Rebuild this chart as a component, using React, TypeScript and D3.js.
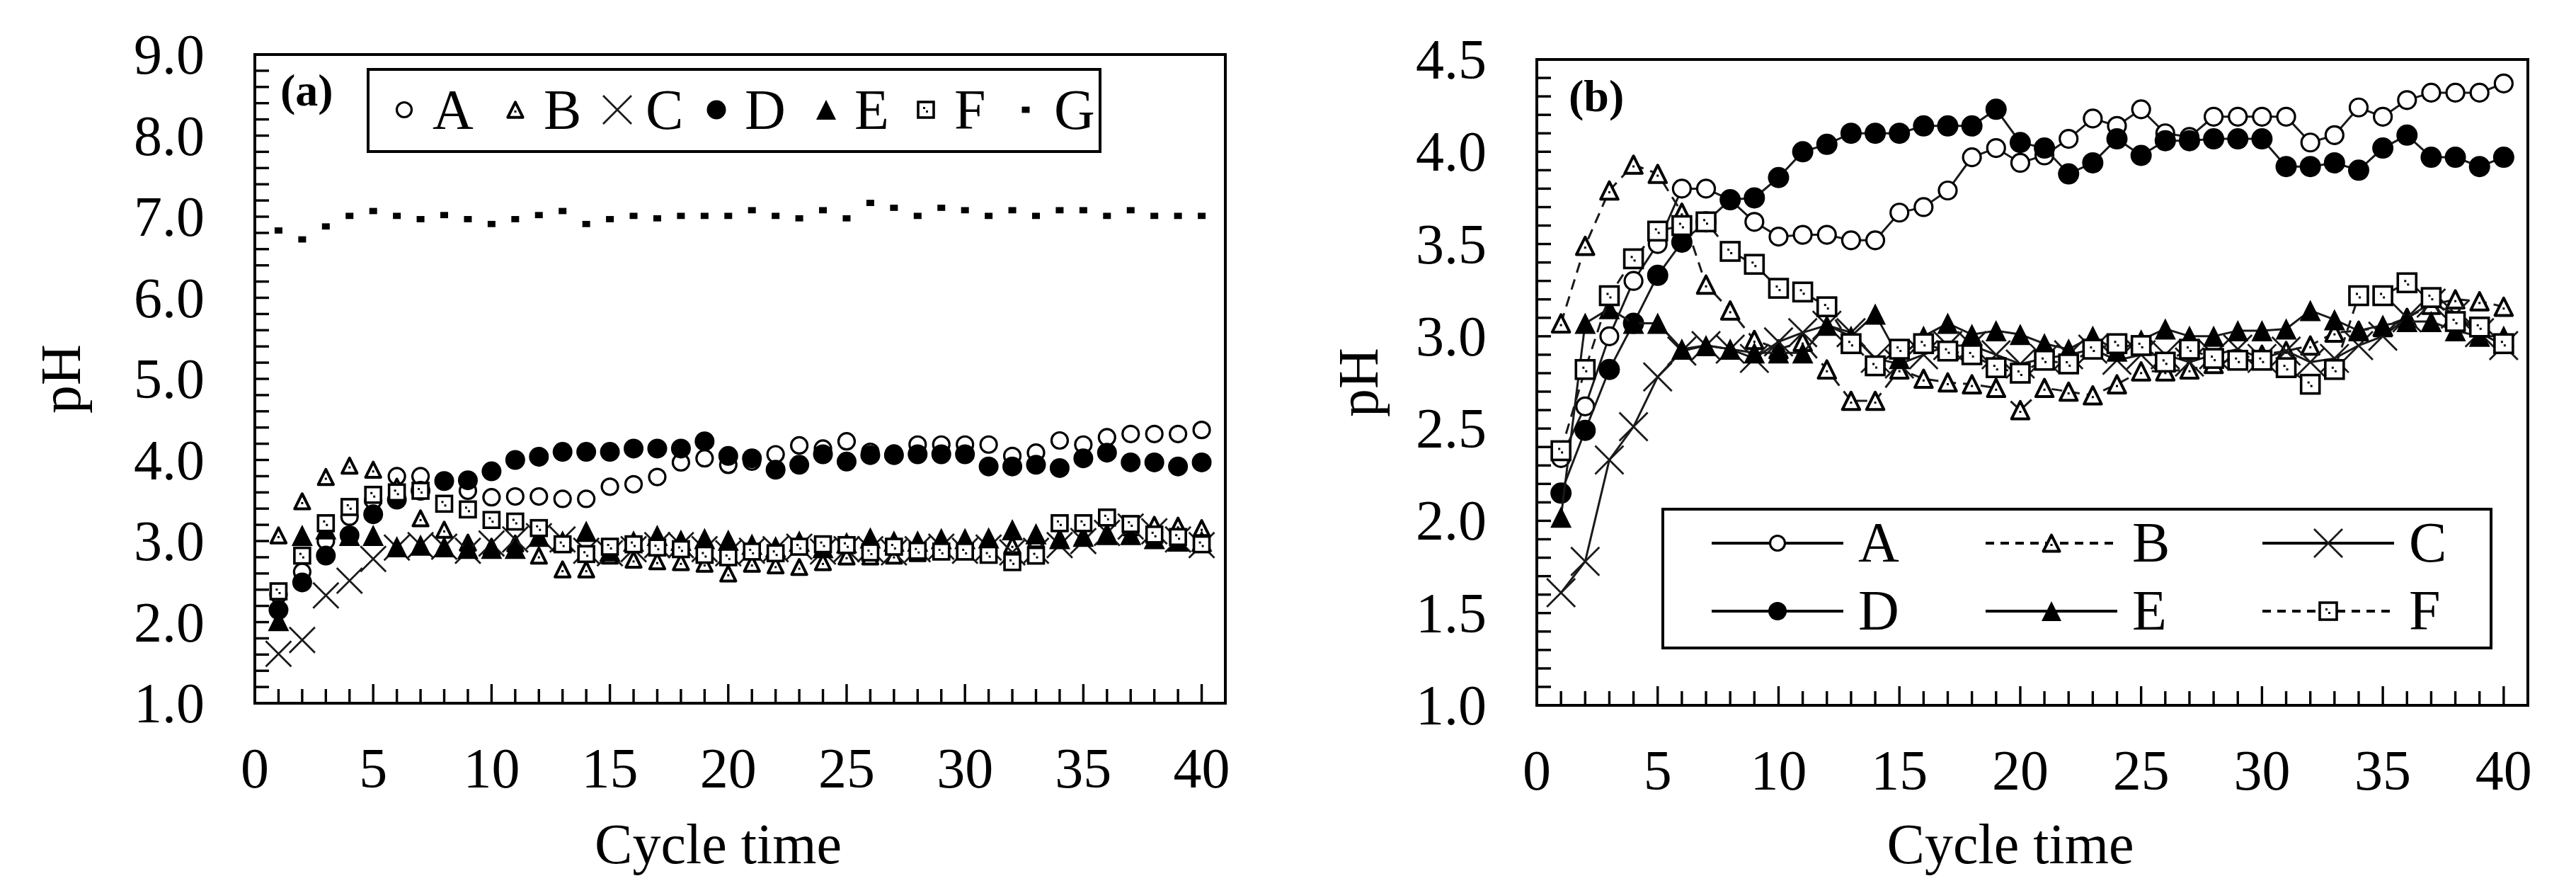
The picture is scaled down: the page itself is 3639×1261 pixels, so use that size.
import React from 'react';
import * as d3 from 'd3';

// ---------------- DATA ----------------
const cycles = [1, 2, 3, 4, 5, 6, 7, 8, 9, 10, 11, 12, 13, 14, 15, 16, 17, 18, 19, 20,
  21, 22, 23, 24, 25, 26, 27, 28, 29, 30, 31, 32, 33, 34, 35, 36, 37, 38, 39, 40];

const seriesA = [2.34, 2.62, 3.00, 3.30, 3.50, 3.80, 3.80, 3.74, 3.62, 3.54,
  3.55, 3.55, 3.52, 3.52, 3.67, 3.70, 3.79, 3.97, 4.02, 3.94,
  3.98, 4.07, 4.18, 4.14, 4.23, 4.10, 4.08, 4.19, 4.19, 4.19,
  4.19, 4.05, 4.09, 4.24, 4.19, 4.28, 4.32, 4.32, 4.32, 4.37];
const seriesB = [3.07, 3.49, 3.79, 3.93, 3.88, 3.67, 3.28, 3.14, 2.98, 2.93,
  2.97, 2.82, 2.65, 2.65, 2.82, 2.77, 2.75, 2.74, 2.72, 2.60,
  2.72, 2.70, 2.68, 2.74, 2.81, 2.81, 2.82, 2.85, 2.88, 2.90,
  2.92, 2.95, 3.02, 3.03, 3.05, 3.10, 3.17, 3.20, 3.19, 3.16];
const seriesC = [1.61, 1.78, 2.33, 2.51, 2.78, 2.92, 2.95, 2.93, 2.88, 2.97,
  3.02, 3.06, 3.02, 2.88, 2.85, 2.90, 2.95, 2.95, 2.90, 2.85,
  2.88, 2.90, 2.93, 2.87, 2.90, 2.90, 2.86, 2.90, 2.93, 2.88,
  2.92, 2.86, 2.88, 2.95, 3.00, 3.10, 3.18, 3.12, 3.02, 2.95];
const seriesD = [2.15, 2.49, 2.82, 3.07, 3.33, 3.51, 3.62, 3.74, 3.75, 3.86,
  4.00, 4.04, 4.10, 4.10, 4.10, 4.14, 4.14, 4.14, 4.23, 4.05,
  4.02, 3.88, 3.94, 4.07, 3.98, 4.06, 4.06, 4.07, 4.07, 4.07,
  3.92, 3.92, 3.94, 3.90, 4.02, 4.09, 3.97, 3.97, 3.92, 3.97];
const seriesE = [2.02, 3.07, 3.15, 3.07, 3.07, 2.93, 2.95, 2.93, 2.91, 2.91,
  2.91, 3.06, 3.00, 3.12, 2.88, 3.00, 3.07, 3.01, 3.03, 3.01,
  2.96, 2.93, 3.00, 2.92, 2.98, 3.04, 3.00, 3.00, 3.03, 3.03,
  3.04, 3.14, 3.09, 3.03, 3.06, 3.08, 3.08, 3.03, 3.00, 3.00];
const seriesF = [2.38, 2.82, 3.22, 3.42, 3.57, 3.60, 3.62, 3.46, 3.39, 3.26,
  3.24, 3.16, 2.96, 2.84, 2.93, 2.96, 2.92, 2.90, 2.83, 2.80,
  2.87, 2.85, 2.93, 2.96, 2.95, 2.86, 2.93, 2.88, 2.87, 2.87,
  2.83, 2.74, 2.82, 3.22, 3.22, 3.29, 3.21, 3.08, 3.05, 2.96];
const seriesG = [6.83, 6.72, 6.88, 7.01, 7.07, 7.01, 6.97, 7.02, 6.97, 6.91,
  6.97, 7.02, 7.07, 6.91, 6.97, 7.01, 6.98, 7.01, 7.01, 7.01,
  7.08, 7.01, 6.98, 7.08, 6.98, 7.17, 7.11, 7.01, 7.11, 7.08,
  7.01, 7.08, 7.01, 7.08, 7.08, 7.01, 7.08, 7.01, 7.01, 7.01];

const seriesNames = ['A', 'B', 'C', 'D', 'E', 'F', 'G'];
const xTickLabels = [0, 5, 10, 15, 20, 25, 30, 35, 40];
const yTickLabelsA = [1, 2, 3, 4, 5, 6, 7, 8, 9];
const yTickLabelsB = [1.0, 1.5, 2.0, 2.5, 3.0, 3.5, 4.0, 4.5];
const xAxisTitle = 'Cycle time';
const yAxisTitle = 'pH';

// ---------------- STYLE ----------------
const FONT = '"Liberation Serif", "Times New Roman", Times, serif';
type Kind = 'circleOpen' | 'triOpen' | 'cross' | 'circleFilled' | 'triFilled' | 'squareOpen' | 'dot';
const kinds: Kind[] = ['circleOpen', 'triOpen', 'cross', 'circleFilled', 'triFilled', 'squareOpen', 'dot'];
const dashedSeries = ['B', 'F'];

const allSeries = [seriesA, seriesB, seriesC, seriesD, seriesE, seriesF, seriesG];

function Marker({ kind, x, y, s }: { kind: Kind; x: number; y: number; s: number }) {
  switch (kind) {
    case 'circleOpen':
      return <circle cx={x} cy={y} r={s / 2 - 1.5} fill="#fff" stroke="#000" strokeWidth={3.2} />;
    case 'circleFilled':
      return <circle cx={x} cy={y} r={s / 2} fill="#000" />;
    case 'triOpen': {
      const w = s * 0.82, h = s * 0.82;
      return (
        <g>
          <path d={`M${x},${y - h / 2}L${x + w / 2},${y + h / 2}L${x - w / 2},${y + h / 2}Z`}
            fill="#fff" stroke="#000" strokeWidth={4} strokeLinejoin="round" />
          <rect x={x - 1.5} y={y + 1} width={3} height={3} fill="#000" />
        </g>
      );
    }
    case 'triFilled': {
      const w = s, h = s;
      return <path d={`M${x},${y - h / 2}L${x + w / 2},${y + h / 2}L${x - w / 2},${y + h / 2}Z`} fill="#000" />;
    }
    case 'cross': {
      const d = s / 2;
      return <path d={`M${x - d},${y - d}L${x + d},${y + d}M${x - d},${y + d}L${x + d},${y - d}`}
        stroke="#1a1a1a" strokeWidth={2.8} fill="none" />;
    }
    case 'squareOpen': {
      const a = s - 4;
      return (
        <g>
          <rect x={x - a / 2} y={y - a / 2} width={a} height={a} fill="#fff" stroke="#000" strokeWidth={3.6} />
          <rect x={x - 4} y={y - 4} width={3} height={3} fill="#000" />
          <rect x={x} y={y + 1} width={3} height={3} fill="#000" />
        </g>
      );
    }
    case 'dot':
    default:
      return <rect x={x - s / 2} y={y - s * 0.4} width={s} height={s * 0.8} fill="#000" />;
  }
}

type PanelCfg = {
  left: number; right: number; top: number; bottom: number;
  yDomain: [number, number]; yStep: number; yLabels: number[];
  tag: string; tagX: number; tagY: number;
  yTitleX: number; withLines: boolean; nSeries: number;
  markerSizes: number[];
};

function Panel({ cfg }: { cfg: PanelCfg }) {
  const x = d3.scaleLinear().domain([0, 41]).range([cfg.left, cfg.right]);
  const y = d3.scaleLinear().domain(cfg.yDomain).range([cfg.bottom, cfg.top]);
  const nY = Math.round((cfg.yDomain[1] - cfg.yDomain[0]) / cfg.yStep);
  const yTicks = d3.range(0, nY + 1).map((i) => cfg.yDomain[0] + i * cfg.yStep);
  const xTicks = d3.range(1, 41);
  const fmt = d3.format('.1f');
  const line = d3.line<number>().x((_, i) => x(cycles[i])).y((v) => y(v));
  const cx = (cfg.left + cfg.right) / 2 - 31;
  const cy = (cfg.top + cfg.bottom) / 2;

  return (
    <g>
      {/* ticks */}
      {yTicks.map((v, i) => (
        <line key={'yt' + i} x1={cfg.left} x2={cfg.left + 20} y1={y(v)} y2={y(v)} stroke="#000" strokeWidth={3.4} />
      ))}
      {xTicks.map((t) => (
        <line key={'xt' + t} x1={x(t)} x2={x(t)} y1={cfg.bottom} y2={cfg.bottom - (t % 5 === 0 ? 27 : 20)}
          stroke="#000" strokeWidth={3.4} />
      ))}
      {/* tick labels */}
      {cfg.yLabels.map((v) => (
        <text key={'yl' + v} x={cfg.left - 71} y={y(v) + 27} textAnchor="end" fontFamily={FONT} fontSize={80}>{fmt(v)}</text>
      ))}
      {xTickLabels.map((t) => (
        <text key={'xl' + t} x={x(t)} y={cfg.bottom + 119} textAnchor="middle" fontFamily={FONT} fontSize={80}>{t}</text>
      ))}
      {/* axis titles */}
      <text x={cx} y={1219} textAnchor="middle" fontFamily={FONT} fontSize={80}>{xAxisTitle}</text>
      <text transform={`translate(${cfg.yTitleX},${cy}) rotate(-90)`} textAnchor="middle" fontFamily={FONT} fontSize={80}>{yAxisTitle}</text>
      {/* series */}
      {allSeries.slice(0, cfg.nSeries).map((s, si) => (
        <g key={'s' + si}>
          {cfg.withLines && (
            <path d={line(s) || ''} fill="none" stroke="#1a1a1a" strokeWidth={3}
              strokeDasharray={dashedSeries.includes(seriesNames[si]) ? '15 10' : undefined} />
          )}
          {s.map((v, i) => (
            <Marker key={i} kind={kinds[si]} x={x(cycles[i])} y={y(v)} s={cfg.markerSizes[si]} />
          ))}
        </g>
      ))}
      {/* frame */}
      <rect x={cfg.left} y={cfg.top} width={cfg.right - cfg.left} height={cfg.bottom - cfg.top}
        fill="none" stroke="#000" strokeWidth={4} />
      {/* tag */}
      <text x={cfg.tagX} y={cfg.tagY} fontFamily={FONT} fontSize={64} fontWeight="bold">{cfg.tag}</text>
    </g>
  );
}

function LegendA() {
  const markerX = [571, 728, 872, 1012, 1167, 1308, 1449];
  const sizes = [24, 26, 40, 27, 28, 26, 11];
  const yc = 155;
  return (
    <g>
      <rect x={520} y={98} width={1034} height={116} fill="#fff" stroke="#000" strokeWidth={4} />
      {seriesNames.map((n, i) => (
        <g key={n}>
          <Marker kind={kinds[i]} x={markerX[i]} y={yc} s={sizes[i]} />
          <text x={markerX[i] + 40} y={yc + 27} fontFamily={FONT} fontSize={80}>{n}</text>
        </g>
      ))}
    </g>
  );
}

function LegendB() {
  const colX = [2418, 2805, 3196];
  const rowY = [767, 863];
  const sizes = [24, 28, 40, 26, 28, 28];
  return (
    <g>
      <rect x={2349} y={719} width={1170} height={196} fill="#fff" stroke="#000" strokeWidth={4} />
      {seriesNames.slice(0, 6).map((n, i) => {
        const x0 = colX[i % 3];
        const yy = rowY[Math.floor(i / 3)];
        return (
          <g key={n}>
            <line x1={x0} x2={x0 + 186} y1={yy} y2={yy} stroke="#000" strokeWidth={4}
              strokeDasharray={dashedSeries.includes(n) ? '12 9' : undefined} />
            <Marker kind={kinds[i]} x={x0 + 93} y={yy} s={sizes[i]} />
            <text x={x0 + 207} y={yy + 26} fontFamily={FONT} fontSize={80}>{n}</text>
          </g>
        );
      })}
    </g>
  );
}

export default function App() {
  const cfgA: PanelCfg = {
    left: 360, right: 1731, top: 77, bottom: 993,
    yDomain: [1, 9], yStep: 0.2, yLabels: yTickLabelsA,
    tag: '(a)', tagX: 396, tagY: 149, yTitleX: 113, withLines: false, nSeries: 7,
    markerSizes: [26, 26, 36, 28, 30, 26, 11],
  };
  const cfgB: PanelCfg = {
    left: 2171, right: 3571, top: 84, bottom: 996,
    yDomain: [1, 4.5], yStep: 0.1, yLabels: yTickLabelsB,
    tag: '(b)', tagX: 2216, tagY: 157, yTitleX: 1946, withLines: true, nSeries: 6,
    markerSizes: [28, 30, 40, 30, 30, 30],
  };
  return (
    <svg width={3639} height={1261} viewBox="0 0 3639 1261"
      style={{ position: 'absolute', left: 0, top: 0, display: 'block', background: '#fff' }}>
      <rect x={0} y={0} width={3639} height={1261} fill="#fff" />
      <Panel cfg={cfgA} />
      <LegendA />
      <Panel cfg={cfgB} />
      <LegendB />
    </svg>
  );
}
